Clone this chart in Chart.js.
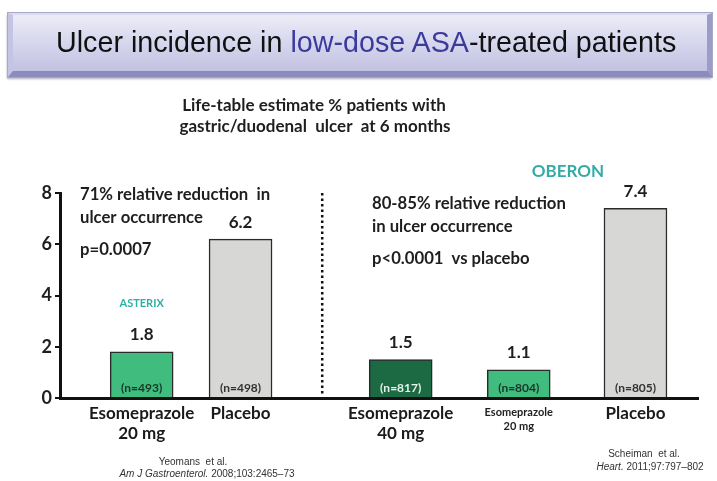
<!DOCTYPE html>
<html>
<head>
<meta charset="utf-8">
<title>Ulcer incidence in low-dose ASA-treated patients</title>
<script src="https://cdn.jsdelivr.net/npm/chart.js@4.4.1/dist/chart.umd.min.js"></script>
<style>
  body { margin: 0; background: #fff; }
  #wrap { position: relative; width: 717px; height: 481px; overflow: hidden; background: #fff; }
  #ulcerChart { position: absolute; left: 0; top: 0; }
  .title-box {
    position: absolute; left: 8px; top: 13px; width: 694px; height: 56px;
    background: linear-gradient(#ececf8, #d4d4ec 55%, #c2c2e2);
    border-style: solid;
    border-width: 2px 5px 6px 5px;
    border-color: #dcdcf0 #9c9cc8 #8c8cbc #c4c4e4;
    outline: 1px solid #a8a8c8;
    box-shadow: -1px 2px 2px rgba(90, 90, 120, 0.5);
  }
  .title-box span.txt {
    position: absolute; left: 43px; top: 11px; white-space: nowrap;
    font-family: 'Liberation Sans', Arial, sans-serif; font-size: 28.7px; color: #111;
  }
  .title-box .hl { color: #3b3b9c; }
</style>
</head>
<body>
<div id="wrap">
  <canvas id="ulcerChart" width="717" height="481"></canvas>
  <div class="title-box"><span class="txt">Ulcer incidence in <span class="hl">low-dose ASA</span>-treated patients</span></div>
</div>
<script>
// --- dados ---
const categories = [['Esomeprazole', '20 mg'], ['Placebo'], ['Esomeprazole', '40 mg'], ['Esomeprazole', '20 mg'], ['Placebo']];
const studies = ['ASTERIX', 'ASTERIX', 'OBERON', 'OBERON', 'OBERON'];
const ulcerPct = [1.8, 6.2, 1.5, 1.1, 7.4];
const patientsN = [493, 498, 817, 804, 805];
const yTicks = [0, 2, 4, 6, 8];

// posição das barras numa escala 0-100 (layout, não dados)
const barSlots = [12.8, 28.3, 53.4, 71.9, 90.2];
const dividerSlot = 41.1;

const barColors = ['#41bc7f', '#d7d8d6', '#1c6a44', '#41bc7f', '#d7d8d6'];
const nColors = ['#183626', '#333333', '#e4f2e8', '#183626', '#333333'];

const FONT = 'Lato, "Open Sans", sans-serif';
const SANS = '"Liberation Sans", Arial, sans-serif';

function drawRuns(ctx, runs, x, y, align) {
    let total = 0;
    runs.forEach(r => { ctx.font = r.font; r.w = ctx.measureText(r.text).width; total += r.w; });
    let cur = align === 'left' ? x : x - total / 2;
    ctx.textAlign = 'left';
    ctx.textBaseline = 'middle';
    runs.forEach(r => {
        ctx.font = r.font;
        ctx.fillStyle = r.color || '#1e1e1e';
        ctx.fillText(r.text, cur, y);
        cur += r.w;
    });
}

function txt(ctx, text, x, y, font, color, align) {
    ctx.font = font;
    ctx.fillStyle = color || '#1e1e1e';
    ctx.textAlign = align || 'center';
    ctx.textBaseline = 'middle';
    ctx.fillText(text, x, y);
}

const overlayText = {
    id: 'overlayText',
    afterDatasetsDraw(chart) {
        const { ctx, chartArea, scales: { x, y } } = chart;
        const meta = chart.getDatasetMeta(0);
        const base = y.getPixelForValue(0);
        const ann = 'bold 16.7px ' + FONT;
        ctx.save();

        // linha pontilhada entre os dois estudos
        const dx = x.getPixelForValue(dividerSlot);
        ctx.strokeStyle = '#111';
        ctx.lineWidth = 2.5;
        ctx.setLineDash([2.5, 3]);
        ctx.beginPath();
        ctx.moveTo(dx, chartArea.top);
        ctx.lineTo(dx, base - 3);
        ctx.stroke();
        ctx.setLineDash([]);

        meta.data.forEach((bar, i) => {
            txt(ctx, ulcerPct[i].toFixed(1), bar.x, bar.y - 17, 'bold 17px ' + FONT);
            txt(ctx, '(n=' + patientsN[i] + ')', bar.x, base - 10, 'bold 12px ' + FONT, nColors[i]);

            const small = i === 3;
            categories[i].forEach((line, k) => {
                if (small) txt(ctx, line, bar.x, 412 + k * 14, 'bold 11px ' + FONT, '#222');
                else txt(ctx, line, bar.x, 414 + k * 20, 'bold 17px ' + FONT, '#1a1a1a');
            });
        });

        // subtítulo
        txt(ctx, 'Life-table estimate % patients with', 314, 106, 'bold 17px ' + FONT);
        txt(ctx, 'gastric/duodenal  ulcer  at 6 months', 315, 127, 'bold 17px ' + FONT);

        // ASTERIX
        txt(ctx, '71% relative reduction  in', 80, 195, ann, null, 'left');
        txt(ctx, 'ulcer occurrence', 80, 218, ann, null, 'left');
        txt(ctx, 'p=0.0007', 80, 250, ann, null, 'left');
        txt(ctx, studies[0], meta.data[0].x, 303, 'bold 11px ' + FONT, '#2fb0a6');

        // OBERON
        txt(ctx, studies[2], 568, 172, 'bold 17px ' + FONT, '#34aca6');
        txt(ctx, '80-85% relative reduction', 372, 204, ann, null, 'left');
        txt(ctx, 'in ulcer occurrence', 372, 227, ann, null, 'left');
        txt(ctx, 'p<0.0001  vs placebo', 372, 259, ann, null, 'left');

        // referências
        txt(ctx, 'Yeomans  et al.', 193, 462, '10px ' + SANS, '#333');
        drawRuns(ctx, [
            { text: 'Am J Gastroenterol.', font: 'italic 10px ' + SANS, color: '#333' },
            { text: ' 2008;103:2465\u201373', font: '10px ' + SANS, color: '#333' }
        ], 207, 474);
        txt(ctx, 'Scheiman  et al.', 644, 454, '10px ' + SANS, '#333');
        drawRuns(ctx, [
            { text: 'Heart.', font: 'italic 10px ' + SANS, color: '#333' },
            { text: ' 2011;97:797\u2013802', font: '10px ' + SANS, color: '#333' }
        ], 650, 467);

        ctx.restore();
    }
};

const ctx = document.getElementById('ulcerChart').getContext('2d');
const chart = new Chart(ctx, {
    type: 'bar',
    data: {
        datasets: [{
            data: ulcerPct.map((v, i) => ({ x: barSlots[i], y: v })),
            backgroundColor: barColors,
            borderColor: '#2a2a2a',
            borderWidth: 1.5,
            barThickness: 63
        }]
    },
    options: {
        responsive: false,
        animation: false,
        layout: { padding: { top: 193, right: 19, bottom: 83, left: 0 } },
        plugins: { legend: { display: false }, tooltip: { enabled: false } },
        scales: {
            x: {
                type: 'linear', min: 0, max: 100, offset: false,
                ticks: { display: false },
                grid: { display: false },
                border: { display: true, color: '#111', width: 3 },
                afterFit: scale => { scale.height = 0; }
            },
            y: {
                min: 0, max: 8,
                afterBuildTicks: scale => { scale.ticks = yTicks.map(v => ({ value: v })); },
                ticks: { padding: 3, color: '#1e1e1e', font: { family: FONT, size: 18, weight: 'bold' } },
                grid: { drawOnChartArea: false, tickLength: 5, color: '#111', lineWidth: 2 },
                border: { display: true, color: '#111', width: 3 },
                afterFit: scale => { scale.width = 60; }
            }
        }
    },
    plugins: [overlayText]
});
</script>
</body>
</html>
